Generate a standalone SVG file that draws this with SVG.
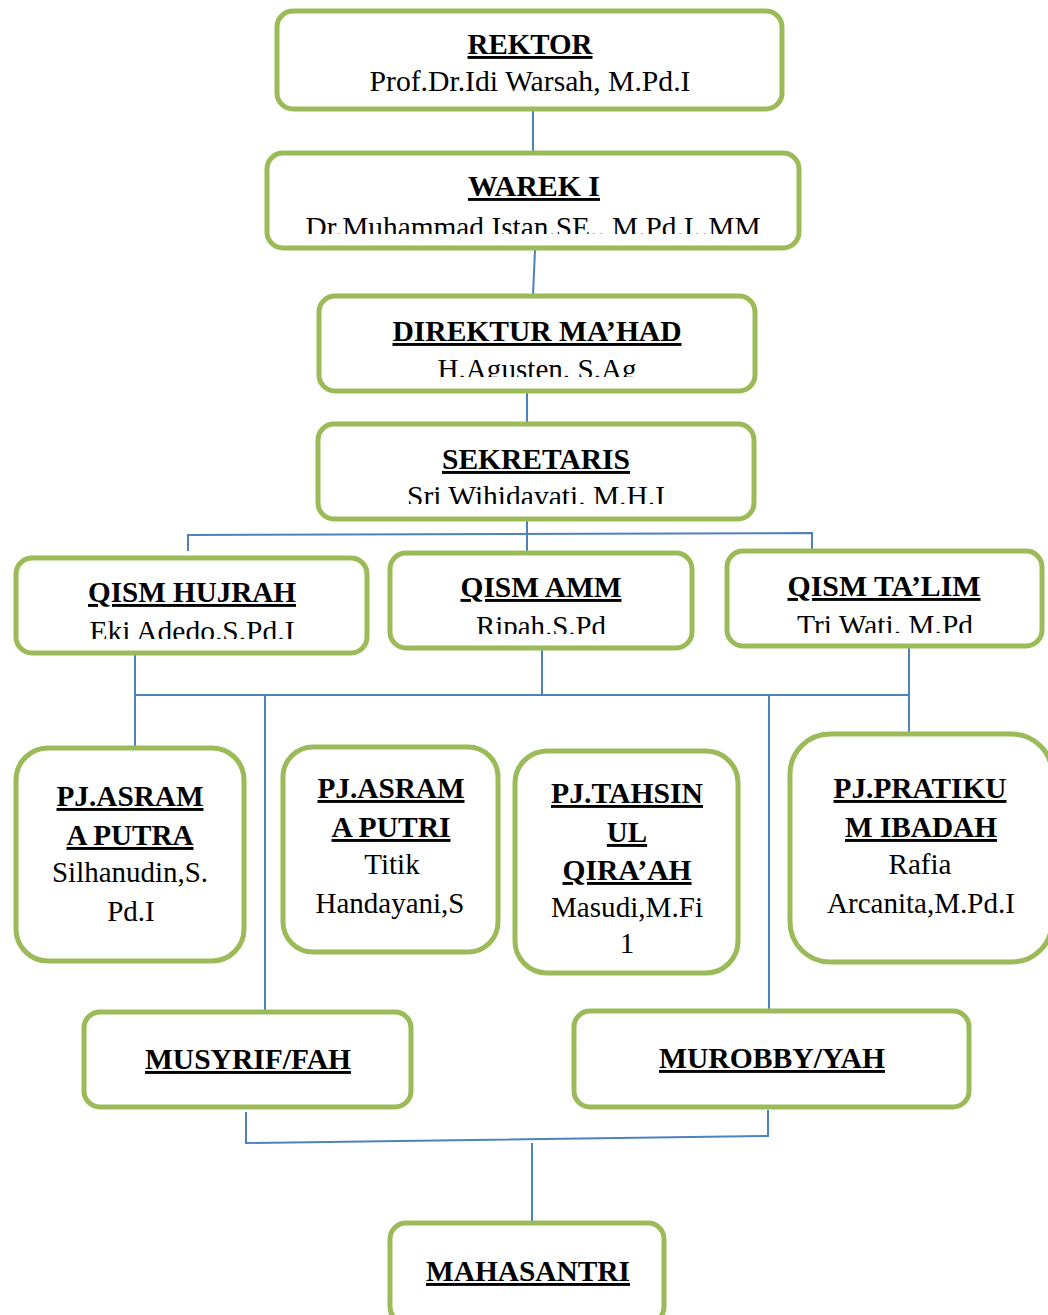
<svg xmlns="http://www.w3.org/2000/svg" width="1048" height="1315" viewBox="0 0 1048 1315">
<style>
.box{fill:#fff;stroke:#9BBB59;stroke-width:5}
.t{font-family:"Liberation Serif","Times New Roman",serif;font-weight:bold;font-size:29px;text-decoration:underline;fill:#000;text-anchor:middle}
.n{font-family:"Liberation Serif","Times New Roman",serif;font-size:29px;fill:#000;text-anchor:middle}
.c{fill:none;stroke:#4F81BD;stroke-width:2}
</style>
<defs>
<clipPath id="cw"><rect x="0" y="0" width="1048" height="234"/></clipPath>
<clipPath id="cd"><rect x="0" y="0" width="1048" height="377"/></clipPath>
<clipPath id="cs"><rect x="0" y="0" width="1048" height="504"/></clipPath>
<clipPath id="ch"><rect x="0" y="0" width="1048" height="639"/></clipPath>
<clipPath id="ca"><rect x="0" y="0" width="1048" height="634"/></clipPath>
<clipPath id="ct"><rect x="0" y="0" width="1048" height="633"/></clipPath>
</defs>
<g id="connectors">
<line class="c" x1="533" y1="110" x2="533" y2="152"/>
<line class="c" x1="535" y1="250" x2="533" y2="295"/>
<line class="c" x1="527" y1="392" x2="527" y2="423"/>
<line class="c" x1="527" y1="520" x2="527" y2="552"/>
<polyline class="c" points="188,551 188,535 812,533 812,549"/>
<line class="c" x1="135" y1="654" x2="135" y2="747"/>
<line class="c" x1="542" y1="649" x2="542" y2="695"/>
<line class="c" x1="909" y1="647" x2="909" y2="733"/>
<line class="c" x1="135" y1="695" x2="909" y2="695"/>
<line class="c" x1="265" y1="695" x2="265" y2="1011"/>
<line class="c" x1="769" y1="695" x2="769" y2="1010"/>
<polyline class="c" points="246,1112 246,1143 768,1136 768,1110"/>
<line class="c" x1="532" y1="1143" x2="532" y2="1222"/>
</g>
<g id="rektor">
<rect class="box" x="277" y="11" width="505" height="98" rx="16"/>
<text class="t" x="530" y="54" textLength="125" lengthAdjust="spacingAndGlyphs">REKTOR</text>
<text class="n" x="530" y="91" textLength="321" lengthAdjust="spacingAndGlyphs">Prof.Dr.Idi Warsah, M.Pd.I</text>
</g>
<g id="warek">
<rect class="box" x="267" y="153" width="532" height="95" rx="16"/>
<text class="t" x="534" y="196" textLength="132" lengthAdjust="spacingAndGlyphs">WAREK I</text>
<text class="n" x="533" y="237" clip-path="url(#cw)" textLength="455" lengthAdjust="spacingAndGlyphs">Dr.Muhammad Istan.SE.. M.Pd.I..MM</text>
</g>
<g id="direktur">
<rect class="box" x="319" y="296" width="436" height="95" rx="16"/>
<text class="t" x="537" y="341" textLength="289" lengthAdjust="spacingAndGlyphs">DIREKTUR MA’HAD</text>
<text class="n" x="537" y="379" clip-path="url(#cd)" textLength="199" lengthAdjust="spacingAndGlyphs">H.Agusten. S.Ag</text>
</g>
<g id="sekretaris">
<rect class="box" x="318" y="424" width="436" height="95" rx="16"/>
<text class="t" x="536" y="469" textLength="188" lengthAdjust="spacingAndGlyphs">SEKRETARIS</text>
<text class="n" x="536" y="506" clip-path="url(#cs)" textLength="258" lengthAdjust="spacingAndGlyphs">Sri Wihidavati. M.H.I</text>
</g>
<g id="qism-hujrah">
<rect class="box" x="16" y="558" width="351" height="95" rx="16"/>
<text class="t" x="192" y="602" textLength="208" lengthAdjust="spacingAndGlyphs">QISM HUJRAH</text>
<text class="n" x="192" y="641" clip-path="url(#ch)" textLength="205" lengthAdjust="spacingAndGlyphs">Eki Adedo.S.Pd.I</text>
</g>
<g id="qism-amm">
<rect class="box" x="390" y="553" width="302" height="95" rx="16"/>
<text class="t" x="541" y="597" textLength="161" lengthAdjust="spacingAndGlyphs">QISM AMM</text>
<text class="n" x="541" y="636" clip-path="url(#ca)" textLength="130" lengthAdjust="spacingAndGlyphs">Ripah.S.Pd</text>
</g>
<g id="qism-talim">
<rect class="box" x="727" y="551" width="315" height="95" rx="16"/>
<text class="t" x="884" y="596" textLength="193" lengthAdjust="spacingAndGlyphs">QISM TA’LIM</text>
<text class="n" x="885" y="635" clip-path="url(#ct)" textLength="176" lengthAdjust="spacingAndGlyphs">Tri Wati. M.Pd</text>
</g>
<g id="pj-asrama-putra">
<rect class="box" x="16" y="748" width="228" height="213" rx="32"/>
<text class="t" x="130" y="806" textLength="147" lengthAdjust="spacingAndGlyphs">PJ.ASRAM</text>
<text class="t" x="130" y="845" textLength="127" lengthAdjust="spacingAndGlyphs">A PUTRA</text>
<text class="n" x="130" y="882" textLength="156" lengthAdjust="spacingAndGlyphs">Silhanudin,S.</text>
<text class="n" x="131" y="921">Pd.I</text>
</g>
<g id="pj-asrama-putri">
<rect class="box" x="283" y="747" width="215" height="205" rx="30"/>
<text class="t" x="391" y="798" textLength="147" lengthAdjust="spacingAndGlyphs">PJ.ASRAM</text>
<text class="t" x="391" y="837" textLength="119" lengthAdjust="spacingAndGlyphs">A PUTRI</text>
<text class="n" x="392" y="874">Titik</text>
<text class="n" x="390" y="913" textLength="149" lengthAdjust="spacingAndGlyphs">Handayani,S</text>
</g>
<g id="pj-tahsinul-qiraah">
<rect class="box" x="515" y="751" width="223" height="222" rx="32"/>
<text class="t" x="627" y="803" textLength="152" lengthAdjust="spacingAndGlyphs">PJ.TAHSIN</text>
<text class="t" x="627" y="842">UL</text>
<text class="t" x="627" y="880" textLength="129" lengthAdjust="spacingAndGlyphs">QIRA’AH</text>
<text class="n" x="627" y="917" textLength="152" lengthAdjust="spacingAndGlyphs">Masudi,M.Fi</text>
<text class="n" x="627" y="953">1</text>
</g>
<g id="pj-pratikum-ibadah">
<rect class="box" x="790" y="734" width="262" height="228" rx="40"/>
<text class="t" x="920" y="798" textLength="173" lengthAdjust="spacingAndGlyphs">PJ.PRATIKU</text>
<text class="t" x="921" y="837" textLength="152" lengthAdjust="spacingAndGlyphs">M IBADAH</text>
<text class="n" x="920" y="874">Rafia</text>
<text class="n" x="921" y="913" textLength="188" lengthAdjust="spacingAndGlyphs">Arcanita,M.Pd.I</text>
</g>
<g id="musyrif">
<rect class="box" x="84" y="1012" width="327" height="95" rx="16"/>
<text class="t" x="248" y="1069" textLength="206" lengthAdjust="spacingAndGlyphs">MUSYRIF/FAH</text>
</g>
<g id="murobby">
<rect class="box" x="574" y="1011" width="395" height="96" rx="16"/>
<text class="t" x="772" y="1068" textLength="226" lengthAdjust="spacingAndGlyphs">MUROBBY/YAH</text>
</g>
<g id="mahasantri">
<rect class="box" x="390" y="1223" width="274" height="100" rx="16"/>
<text class="t" x="528" y="1281" textLength="204" lengthAdjust="spacingAndGlyphs">MAHASANTRI</text>
</g>
</svg>
